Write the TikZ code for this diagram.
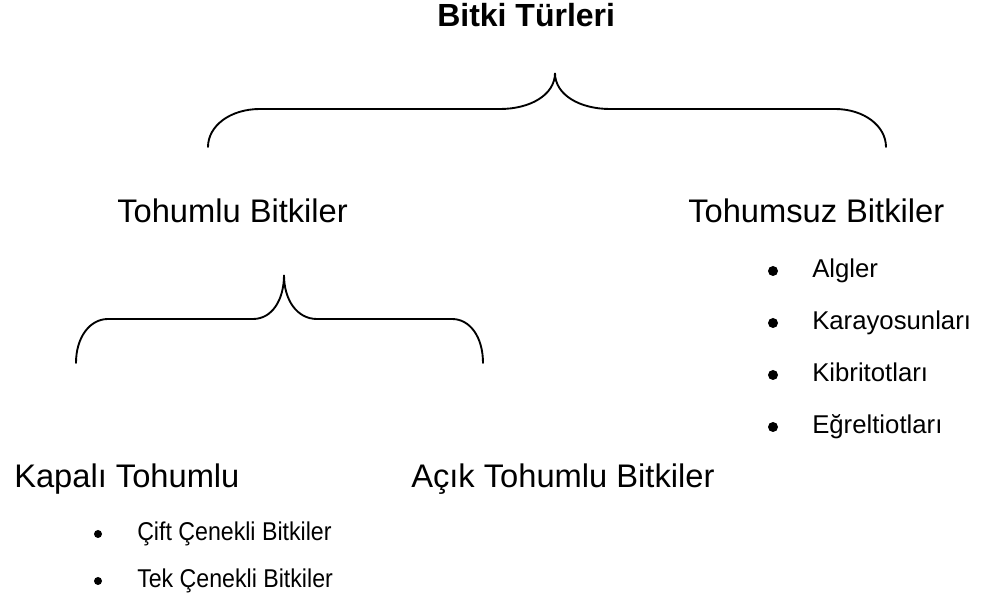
\documentclass[tikz,border=0pt]{standalone}
\usepackage{fontspec}
\usepackage{graphicx}
\setmainfont{Liberation Sans}
\newcommand{\narrowtext}[1]{\scalebox{0.9}[1]{#1}}
\tikzset{
  brace line/.style={line width=1.4pt, line cap=round},
  head/.style={anchor=base west, inner sep=0pt, font=\fontsize{24.5}{28}\selectfont},
  item/.style={anchor=base west, inner sep=0pt, font=\fontsize{19.3}{23}\selectfont},
  dot/.style={circle, fill=black, inner sep=0pt, minimum size=7.5pt}
}
\begin{document}
\begin{tikzpicture}[x=0.75pt,y=0.75pt,yscale=-1]
  \useasboundingbox (0,0) rectangle (990,598);

  %Shape: Brace [top]
  \draw [brace line] (208,147) .. controls (208,126) and (230,109) .. (260,109) -- (500,109) .. controls (530,109) and (555,95) .. (555,73) .. controls (555,95) and (580,109) .. (610,109) -- (835,109) .. controls (864,109) and (886,126) .. (886,147) ;
  %Shape: Brace [seeds]
  \draw [brace line] (76,363) .. controls (76,337) and (90,319) .. (108,319) -- (253,319) .. controls (272,319) and (284,300) .. (284,275) .. controls (284,300) and (297,319) .. (317,319) -- (452,319) .. controls (470,319) and (483,337) .. (483,363) ;

  % Text Node
  \node (turler) [head, font=\fontsize{24}{28}\selectfont\bfseries] at (437,27) {Bitki Türleri};
  % Text Node
  \node (tohumlu) [head] at (117,223) {Tohumlu Bitkiler};
  % Text Node
  \node (tohumsuz) [head] at (688,223) {Tohumsuz Bitkiler};
  % Text Node
  \node (kapali) [head] at (14,488) {Kapalı Tohumlu};
  % Text Node
  \node (acik) [head] at (411,488) {Açık Tohumlu Bitkiler};

  % Items: seedless
  \foreach \name/\txt [count=\i] in {algler/Algler, karayosun/Karayosunları, kibrit/Kibritotları, egrelti/Eğreltiotları}
  {
    \node (\name) [item] at (812,278+52*\i-52) {\txt};
    \node (dot-\name) [dot] at (773,271+52*\i-52) {};
  }
  % Items: angiosperms
  \foreach \name/\txt [count=\i] in {cift/Çift Çenekli Bitkiler, tek/Tek Çenekli Bitkiler}
  {
    \node (\name) [item] at (137,541+47*\i-47) {\narrowtext{\txt}};
    \node (dot-\name) [dot, minimum size=6pt] at (98,534+47*\i-47) {};
  }
\end{tikzpicture}
\end{document}
